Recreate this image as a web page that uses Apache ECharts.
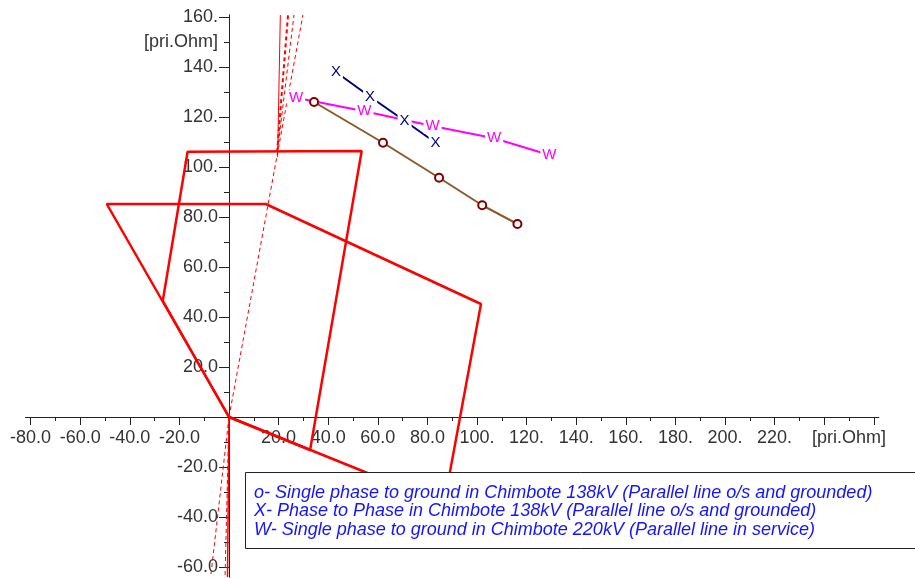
<!DOCTYPE html>
<html><head><meta charset="utf-8">
<script src="https://cdn.jsdelivr.net/npm/echarts@6/dist/echarts.min.js"></script>
<style>html,body{margin:0;padding:0;background:#fff}#c{width:915px;height:578px}</style>
</head><body><div id="c"></div>
<script>
// tick labels
const xTickValues = [-80,-60,-40,-20,20,40,60,80,100,120,140,160,180,200,220];
const xTickLabels = ['-80.0','-60.0','-40.0','-20.0','20.0','40.0','60.0','80.0','100.','120.','140.','160.','180.','200.','220.'];
const yTickValues = [-60,-40,-20,20,40,60,80,100,120,140,160];
const yTickLabels = ['-60.0','-40.0','-20.0','20.0','40.0','60.0','80.0','100.','120.','140.','160.'];
const xMajorTicks = [-80,-60,-40,-20,0,20,40,60,80,100,120,140,160,180,200,220,240,260];
const xMinorTicks = [-70,-50,-30,-10,10,30,50,70,90,110,130,150,170,190,210,230,250];
const yMajorTicks = [-60,-40,-20,0,20,40,60,80,100,120,140,160];
const yMinorTicks = [-50,-30,-10,10,30,50,70,90,110,130,150];
const unitLabel = '[pri.Ohm]';
const xUnitPos = 250;
const yUnitPos = 150;

// relay characteristic (red)
const zoneA = [[0,0],[-49.3,85.2],[14.8,85.2],[101.6,45.2],[86.7,-34.8],[0,0]];
const zoneB = [[0,0],[-26.7,46.5],[-16.7,106.1],[53.5,106.4],[32.7,-13.2],[0,0]];
const dirLine1 = [[0,0],[29.8,160.8]];
const dirLine2 = [[19.6,104],[20.7,160.8]];
const dirLine3 = [[19.4,106],[23.8,160.8]];
const dirLine4 = [[19.6,106.8],[26.2,160.8]];
const revLine1 = [[0,0],[-7.4,-64]];
const revLine2 = [[0,0],[-1.6,-64]];
const revLine3 = [[0,0],[-0.6,-64]];

// fault impedance trajectories
const seriesO = [[34.3,126],[62.1,109.7],[84.7,95.7],[102.1,84.7],[116.3,77.2]];
const seriesX = [[43.1,138],[56.9,128.1],[70.8,118.5],[83.3,109.7]];
const seriesW = [[27.0,127.7],[54.6,122.3],[82.1,116.4],[106.9,111.5],[129.2,104.8]];

const legendLines = [
  'o- Single phase to ground in Chimbote 138kV (Parallel line o/s and grounded)',
  'X- Phase to Phase in Chimbote 138kV (Parallel line o/s and grounded)',
  'W- Single phase to ground in Chimbote 220kV (Parallel line in service)'
];

const FONT = '"Liberation Sans", Arial, sans-serif';
const axisColor = '#222';
const labelStyle = {color:'#333', fontSize:18, fontFamily:FONT};

const X_MIN = -82, X_MAX = 262, Y_MIN = -64, Y_MAX = 160.8;
const GRID = {left:25.64, right:36.24, top:15, bottom:1};
const plotW = 915 - GRID.left - GRID.right;
const plotH = 578 - GRID.top - GRID.bottom;
// offsets that bring each axis to the other axis' zero
const xAxisOffset = -(0 - Y_MIN) / (Y_MAX - Y_MIN) * plotH;
const yAxisOffset = -(0 - X_MIN) / (X_MAX - X_MIN) * plotW;

function redLine(data, width, dashed){
  return {type:'line', data:data, symbol:'none', silent:true, z:2,
    lineStyle:{color:'#ff0000', width:width, type: dashed ? [4,3] : 'solid'}, animation:false};
}
function markerLine(data, lineColor, text, textColor, size){
  return {type:'line', data:data, symbol:'circle', symbolSize:1, z:5,
    itemStyle:{color:'rgba(0,0,0,0)'},
    lineStyle:{color:lineColor, width:2},
    label:{show:true, position:'inside', formatter:text, color:textColor, fontSize:size,
      fontFamily:FONT, backgroundColor:'#fff', padding:[0,2]},
    animation:false};
}

const chart = echarts.init(document.getElementById('c'), null, {renderer:'canvas'});
chart.setOption({
  animation:false,
  backgroundColor:'#fff',
  grid:{left:GRID.left, right:GRID.right, top:GRID.top, bottom:GRID.bottom, containLabel:false, outerBoundsMode:'none'},
  xAxis:[
    {type:'value', position:'bottom', min:X_MIN, max:X_MAX, offset:xAxisOffset,
     axisLine:{onZero:false, lineStyle:{color:axisColor, width:1}},
     axisTick:{customValues:xMajorTicks, length:8, inside:false, lineStyle:{color:axisColor}},
     axisLabel:{customValues:xTickValues.concat([xUnitPos]), margin:12, ...labelStyle,
       formatter:v => v===xUnitPos ? unitLabel : xTickLabels[xTickValues.indexOf(v)]},
     splitLine:{show:false}},
    {type:'value', position:'bottom', min:X_MIN, max:X_MAX, offset:xAxisOffset,
     axisLine:{onZero:false, lineStyle:{color:axisColor, width:1}},
     axisTick:{customValues:xMinorTicks, length:4, inside:false, lineStyle:{color:axisColor}},
     axisLabel:{show:false}, splitLine:{show:false}}
  ],
  yAxis:[
    {type:'value', position:'left', min:Y_MIN, max:Y_MAX, offset:yAxisOffset,
     axisLine:{onZero:false, lineStyle:{color:axisColor, width:1}},
     axisTick:{customValues:yMajorTicks, length:10, inside:false, lineStyle:{color:axisColor}},
     axisLabel:{customValues:yTickValues.concat([yUnitPos]), margin:11, ...labelStyle,
       formatter:v => v===yUnitPos ? unitLabel : yTickLabels[yTickValues.indexOf(v)]},
     splitLine:{show:false}},
    {type:'value', position:'left', min:Y_MIN, max:Y_MAX, offset:yAxisOffset,
     axisLine:{onZero:false, lineStyle:{color:axisColor, width:1}},
     axisTick:{customValues:yMinorTicks, length:5, inside:false, lineStyle:{color:axisColor}},
     axisLabel:{show:false}, splitLine:{show:false}}
  ],
  series:[
    redLine(zoneA, 2.5, false),
    redLine(zoneB, 2.5, false),
    redLine(dirLine1, 1, true),
    redLine(dirLine2, 1, false),
    redLine(dirLine3, 2, true),
    redLine(dirLine4, 1, true),
    redLine(revLine1, 1, true),
    redLine(revLine2, 1, true),
    redLine(revLine3, 1.5, false),
    {type:'line', data:seriesO, symbol:'emptyCircle', symbolSize:8, z:5,
     itemStyle:{color:'#800000', borderColor:'#800000', borderWidth:2},
     lineStyle:{color:'#8b5a2b', width:2}, animation:false},
    markerLine(seriesX, '#000080', 'X', '#000080', 15),
    markerLine(seriesW, '#ff00ff', 'W', '#ff00ff', 15)
  ],
  graphic:[{
    type:'group', z:100,
    children:[
      {type:'rect', shape:{x:245.5, y:472.5, width:680, height:76}, z:100,
       style:{fill:'#fff', stroke:'#222', lineWidth:1}},
      {type:'text', x:254, y:484, z:101,
       style:{text:legendLines.join('\n'), fill:'#1414ff', fontSize:18, fontStyle:'italic',
         fontFamily:FONT, lineHeight:18.3}}
    ]
  }]
});
</script>
</body></html>
